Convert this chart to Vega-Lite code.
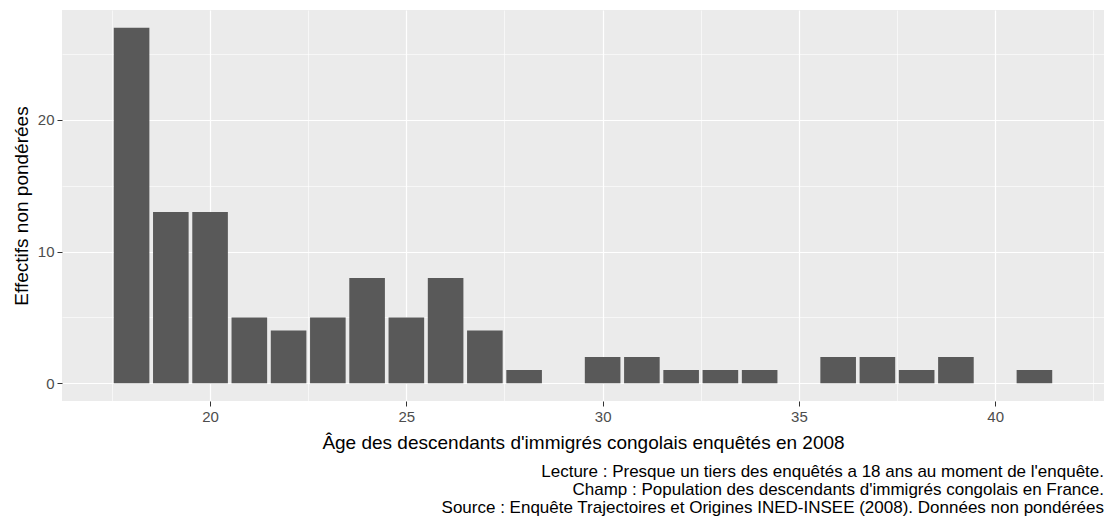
{
  "$schema": "https://vega.github.io/schema/vega-lite/v6.json",
  "width": 1108,
  "height": 518,
  "autosize": {"type": "fit", "contains": "padding"},
  "padding": {"top": 10, "left": 12, "right": 4, "bottom": 2},
  "background": "white",
  "config": {
    "view": {"fill": "#EBEBEB", "stroke": null},
    "font": "Liberation Sans",
    "axis": {
      "domain": false,
      "gridColor": "white",
      "tickColor": "#333333",
      "tickSize": 5,
      "tickWidth": 1,
      "labelColor": "#4D4D4D",
      "labelFontSize": 15,
      "labelPadding": 3,
      "titleFontSize": 19,
      "titleFontWeight": "normal",
      "titleColor": "black"
    }
  },
  "title": {
    "text": [
      "Lecture : Presque un tiers des enquêtés a 18 ans au moment de l'enquête.",
      "Champ : Population des descendants d'immigrés congolais en France.",
      "Source : Enquête Trajectoires et Origines INED-INSEE (2008). Données non pondérées"
    ],
    "orient": "bottom",
    "anchor": "end",
    "align": "right",
    "fontSize": 17,
    "fontWeight": "normal",
    "color": "black",
    "lineHeight": 18,
    "offset": 12
  },
  "data": {
    "values": [
      {"age": 18, "n": 27}, {"age": 19, "n": 13}, {"age": 20, "n": 13},
      {"age": 21, "n": 5}, {"age": 22, "n": 4}, {"age": 23, "n": 5},
      {"age": 24, "n": 8}, {"age": 25, "n": 5}, {"age": 26, "n": 8},
      {"age": 27, "n": 4}, {"age": 28, "n": 1}, {"age": 30, "n": 2},
      {"age": 31, "n": 2}, {"age": 32, "n": 1}, {"age": 33, "n": 1},
      {"age": 34, "n": 1}, {"age": 36, "n": 2}, {"age": 37, "n": 2},
      {"age": 38, "n": 1}, {"age": 39, "n": 2}, {"age": 41, "n": 1}
    ]
  },
  "layer": [
    {
      "mark": {"type": "point", "opacity": 0},
      "encoding": {
        "x": {
          "field": "age", "type": "quantitative",
          "scale": {"domain": [16.355, 42.645], "nice": false, "zero": false},
          "axis": {"orient": "top", "grid": true, "gridWidth": 0.6, "values": [17.5, 22.5, 27.5, 32.5, 37.5, 42.5], "labels": false, "ticks": false, "title": null}
        },
        "y": {
          "field": "n", "type": "quantitative",
          "scale": {"domain": [-1.35, 28.35], "nice": false, "zero": false},
          "axis": {"orient": "right", "grid": true, "gridWidth": 0.6, "values": [5, 15, 25], "labels": false, "ticks": false, "title": null}
        }
      }
    },
    {
      "mark": {"type": "bar", "width": 35.6, "color": "#595959"},
      "encoding": {
        "x": {
          "field": "age", "type": "quantitative",
          "scale": {"domain": [16.355, 42.645], "nice": false, "zero": false},
          "axis": {"orient": "bottom", "grid": true, "gridWidth": 1.2, "values": [20, 25, 30, 35, 40], "title": "Âge des descendants d'immigrés congolais enquêtés en 2008", "titlePadding": 9}
        },
        "y": {
          "field": "n", "type": "quantitative",
          "scale": {"domain": [-1.35, 28.35], "nice": false, "zero": false},
          "axis": {"orient": "left", "grid": true, "gridWidth": 1.2, "values": [0, 10, 20], "title": "Effectifs non pondérées", "titlePadding": 6}
        },
        "y2": {"datum": 0}
      }
    }
  ],
  "resolve": {"axis": {"x": "independent", "y": "independent"}}
}
